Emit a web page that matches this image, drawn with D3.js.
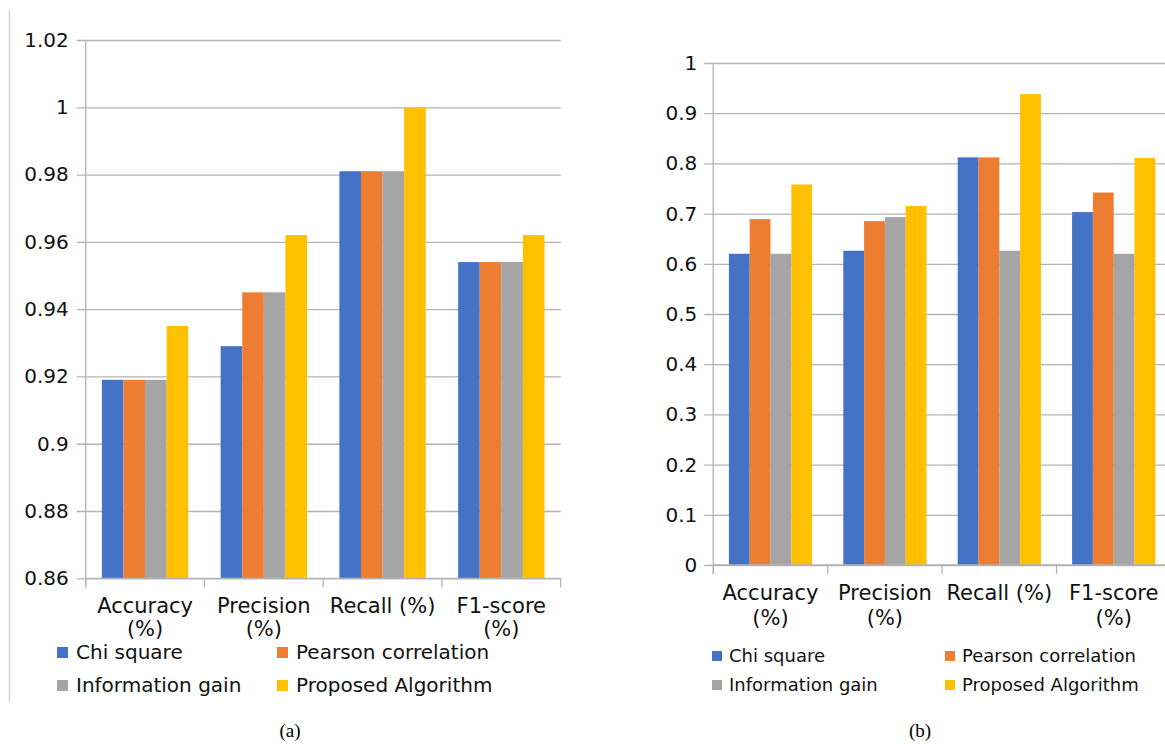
<!DOCTYPE html>
<html>
<head>
<meta charset="utf-8">
<script src="https://cdn.jsdelivr.net/npm/d3@7"></script>
<style>
  body { margin: 0; background: #fff; }
  svg { display: block; font-family: 'DejaVu Sans', sans-serif; }
</style>
</head>
<body>
<svg id="chart" width="1165" height="744"></svg>
<script>
// categories and series
const categories = ['Accuracy (%)', 'Precision (%)', 'Recall (%)', 'F1-score (%)'];
const categoryLines = [['Accuracy', '(%)'], ['Precision', '(%)'], ['Recall (%)'], ['F1-score', '(%)']];
const seriesNames = ['Chi square', 'Pearson correlation', 'Information gain', 'Proposed Algorithm'];
const seriesColors = ['#4472c4', '#ed7d31', '#a5a5a5', '#ffc000'];

// (a)
const chiSquareA = [0.919, 0.929, 0.981, 0.954];
const pearsonA = [0.919, 0.945, 0.981, 0.954];
const infoGainA = [0.919, 0.945, 0.981, 0.954];
const proposedA = [0.935, 0.962, 1.0, 0.962];
const ticksA = [0.86, 0.88, 0.9, 0.92, 0.94, 0.96, 0.98, 1, 1.02];

// (b)
const chiSquareB = [0.62, 0.626, 0.812, 0.703];
const pearsonB = [0.689, 0.685, 0.812, 0.742];
const infoGainB = [0.62, 0.693, 0.626, 0.62];
const proposedB = [0.758, 0.715, 0.938, 0.811];
const ticksB = [0, 0.1, 0.2, 0.3, 0.4, 0.5, 0.6, 0.7, 0.8, 0.9, 1];

class GroupedBarChart {
    constructor(_config, _series) {
        this.config = {
            svg: _config.svg,
            left: _config.left,
            top: _config.top,
            width: _config.width,
            height: _config.height,
            domain: _config.domain,
            ticks: _config.ticks,
            labelPad: _config.labelPad,
            labelY: _config.labelY,
            legend: _config.legend
        };
        this.series = _series;
        this.initVis();
    }

    initVis() {
        let vis = this;
        const c = vis.config;

        vis.chart = c.svg.append('g')
            .attr('transform', `translate(${c.left},${c.top})`);

        vis.x0 = d3.scaleBand()
            .domain(categories)
            .range([0, c.width]);

        vis.x1 = d3.scaleBand()
            .domain(seriesNames)
            .range([0, vis.x0.bandwidth()])
            .paddingInner(0)
            .paddingOuter(0.75);

        vis.y = d3.scaleLinear()
            .domain(c.domain)
            .range([c.height, 0]);

        vis.renderVis();
    }

    renderVis() {
        let vis = this;
        const c = vis.config;

        // gridlines + y labels
        const yAxis = d3.axisLeft(vis.y)
            .tickValues(c.ticks)
            .tickSize(-c.width)
            .tickPadding(c.labelPad)
            .tickFormat(d => String(+d.toFixed(2)));

        const yG = vis.chart.append('g').call(yAxis);
        yG.select('.domain').remove();
        yG.selectAll('line')
            .attr('x1', -9)
            .attr('stroke', '#b3b3b3')
            .attr('stroke-width', 1.3);
        yG.selectAll('text')
            .attr('fill', '#111')
            .style('font-size', '20px')
            .style('font-family', 'DejaVu Sans');

        // bars
        const rows = categories.map((cat, i) => ({
            cat: cat,
            vals: seriesNames.map((s, j) => ({ key: s, value: vis.series[j][i], color: seriesColors[j] }))
        }));

        vis.chart.append('g').selectAll('g')
            .data(rows)
            .join('g')
            .attr('transform', d => `translate(${vis.x0(d.cat)},0)`)
            .selectAll('rect')
            .data(d => d.vals)
            .join('rect')
            .attr('x', d => vis.x1(d.key))
            .attr('width', vis.x1.bandwidth())
            .attr('y', d => vis.y(d.value))
            .attr('height', d => c.height - vis.y(d.value))
            .attr('fill', d => d.color);

        // axis lines
        vis.chart.append('line')
            .attr('x1', 0).attr('x2', 0)
            .attr('y1', 0).attr('y2', c.height + 9)
            .attr('stroke', '#b3b3b3').attr('stroke-width', 1.3);
        vis.chart.append('line')
            .attr('x1', 0).attr('x2', c.width)
            .attr('y1', c.height).attr('y2', c.height)
            .attr('stroke', '#b3b3b3').attr('stroke-width', 1.3);

        const bounds = categories.map(d => vis.x0(d)).concat([vis.x0(categories[categories.length - 1]) + vis.x0.step()]);
        vis.chart.append('g').selectAll('line')
            .data(bounds)
            .join('line')
            .attr('x1', d => d).attr('x2', d => d)
            .attr('y1', c.height).attr('y2', c.height + 9)
            .attr('stroke', '#b3b3b3').attr('stroke-width', 1.3);

        // category labels
        const lab = vis.chart.append('g').selectAll('text')
            .data(categories)
            .join('text')
            .attr('text-anchor', 'middle')
            .attr('fill', '#111')
            .style('font-size', '21px');
        lab.each(function (d, i) {
            const t = d3.select(this);
            categoryLines[i].forEach((line, k) => {
                t.append('tspan')
                    .attr('x', vis.x0(d) + vis.x0.bandwidth() / 2)
                    .attr('y', c.labelY[k] - c.top)
                    .text(line);
            });
        });

        // legend
        const lg = c.legend;
        const items = c.svg.append('g').selectAll('g')
            .data(seriesNames)
            .join('g')
            .attr('transform', (d, i) => `translate(${lg.cols[i % 2]},${lg.rows[Math.floor(i / 2)]})`);
        items.append('rect')
            .attr('x', 0)
            .attr('y', -lg.box - lg.boxDrop)
            .attr('width', lg.box)
            .attr('height', lg.box)
            .attr('fill', (d, i) => seriesColors[i]);
        items.append('text')
            .attr('x', lg.textDx)
            .attr('y', 0)
            .attr('fill', '#111')
            .style('font-size', lg.font)
            .text(d => d);
    }
}

const svg = d3.select('#chart');

// panel frame line on the left of (a)
svg.append('line')
    .attr('x1', 9.5).attr('x2', 9.5)
    .attr('y1', 10).attr('y2', 702)
    .attr('stroke', '#d0d0d0').attr('stroke-width', 1.5);

new GroupedBarChart({
    svg: svg,
    left: 85.7, top: 40, width: 475, height: 538.3,
    domain: [0.86, 1.02],
    ticks: ticksA,
    labelPad: 17,
    labelY: [613, 636],
    legend: { cols: [57, 277], rows: [659, 692], box: 11, boxDrop: 1, textDx: 19, font: '20px' }
}, [chiSquareA, pearsonA, infoGainA, proposedA]);

new GroupedBarChart({
    svg: svg,
    left: 713.3, top: 63, width: 457.6, height: 502,
    domain: [0, 1],
    ticks: ticksB,
    labelPad: 16,
    labelY: [600, 625],
    legend: { cols: [712, 945], rows: [662, 691], box: 10, boxDrop: 1, textDx: 17, font: '18px' }
}, [chiSquareB, pearsonB, infoGainB, proposedB]);

// captions
svg.append('text')
    .attr('x', 290).attr('y', 737)
    .attr('text-anchor', 'middle')
    .style('font-family', "'Liberation Serif', serif")
    .style('font-size', '19px')
    .text('(a)');
svg.append('text')
    .attr('x', 920).attr('y', 737)
    .attr('text-anchor', 'middle')
    .style('font-family', "'Liberation Serif', serif")
    .style('font-size', '19px')
    .text('(b)');
</script>
</body>
</html>
